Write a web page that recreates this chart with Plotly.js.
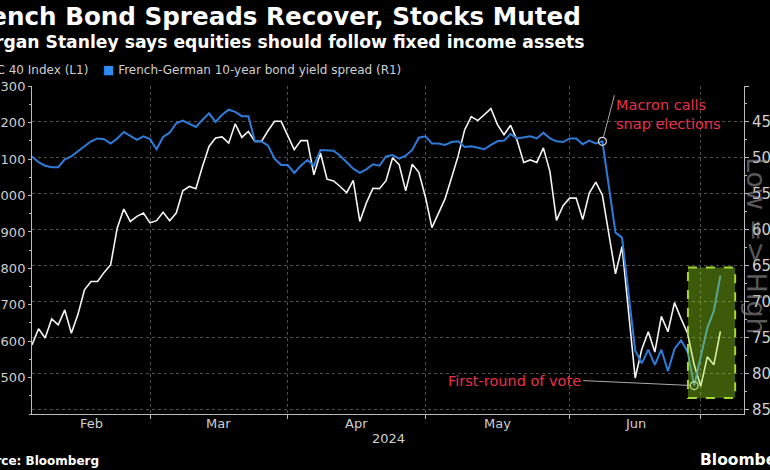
<!DOCTYPE html>
<html><head><meta charset="utf-8">
<script src="https://cdn.plot.ly/plotly-3.0.1.min.js"></script>
<style>html,body{margin:0;padding:0;background:#000;overflow:hidden}#chart{width:770px;height:470px}</style>
</head><body><div id="chart"></div>
<script>
// ---- data ----
const startDate = '2024-02-05';
const endDate = '2024-07-03';
const marketHolidays = ['2024-04-01', '2024-05-01'];

const cac40 = [
  7590, 7634, 7609, 7661, 7645, 7686, 7622, 7673, 7741, 7764,
  7764, 7789, 7810, 7911, 7963, 7929, 7943, 7952, 7925, 7931,
  7954, 7931, 7952, 8013, 8025, 8019, 8080, 8135, 8158, 8161,
  8144, 8197, 8160, 8176, 8149, 8149, 8178, 8204, 8204, 8167,
  8126, 8151, 8151, 8057, 8117, 8045, 8040, 8025, 8008, 8042,
  7929, 7980, 8020, 8019, 8041, 8104, 8085, 8013, 8086, 8064,
  7997, 7912, 7950, 7991, 8049, 8109, 8181, 8217, 8206, 8222,
  8239, 8195, 8167, 8193, 8151, 8091, 8098, 8091, 8131, 8066,
  7932, 7972, 7993, 7993, 7934, 8007, 8037, 8001, 7895, 7785,
  7860, 7678, 7499, 7577, 7626, 7570, 7668, 7626, 7706, 7662,
  7621, 7535, 7476, 7557, 7535, 7627
];

const oatBundSpread = [
  49.8, 50.6, 51.1, 51.3, 51.3, 50.2, 49.8, 49.1, 48.3, 47.7,
  47.3, 47.4, 48.0, 47.3, 46.4, 47.0, 47.5, 47.0, 47.4, 48.8,
  47.1, 46.5, 45.2, 44.8, 45.2, 45.7, 44.7, 43.8, 45.0, 44.0,
  43.3, 43.6, 44.2, 44.2, 47.7, 47.7, 48.3, 50.1, 51.0, 51.0,
  52.1, 51.1, 50.3, 51.1, 48.9, 48.9, 49.0, 49.7, 50.6, 51.5,
  52.1, 51.6, 50.9, 51.1, 49.8, 49.6, 50.1, 49.7, 48.9, 47.2,
  47.0, 48.0, 48.0, 48.2, 47.8, 47.7, 48.5, 48.4, 48.6, 48.8,
  48.2, 47.7, 47.6, 46.7, 47.3, 47.2, 47.0, 47.3, 46.5, 47.3,
  47.7, 47.8, 47.3, 47.3, 48.1, 47.6, 48.0, 47.7, 54.2, 60.4,
  61.1, 68.8, 76.8, 78.6, 76.7, 78.8, 76.7, 79.7, 76.6, 75.4,
  77.0, 81.7, 77.8, 73.7, 71.3, 66.4
];

const monthEnds = ['2024-02-29', '2024-03-29', '2024-04-30', '2024-05-31', '2024-06-28'];
const monthLabels = ['Feb', 'Mar', 'Apr', 'May', 'Jun'];
const leftTicks = [7500, 7600, 7700, 7800, 7900, 8000, 8100, 8200, 8300];
const rightTicks = [40, 45, 50, 55, 60, 65, 70, 75, 80, 85];
const eventDates = ['2024-06-07', '2024-06-27'];
const eventLabels = ['Macron calls<br>snap elections', 'First-round of vote'];

// ---- helpers ----
function tradingDays(start, end, holidays) {
  const out = [];
  const d = new Date(start + 'T00:00:00Z');
  const e = new Date(end + 'T00:00:00Z');
  while (d <= e) {
    const w = d.getUTCDay();
    const s = d.toISOString().slice(0, 10);
    if (w !== 0 && w !== 6 && !holidays.includes(s)) out.push(s);
    d.setUTCDate(d.getUTCDate() + 1);
  }
  return out;
}
const dates = tradingDays(startDate, endDate, marketHolidays);

const W = 770, H = 470;
const M = {l: 32, r: 26, t: 86, b: 56};
const PW = W - M.l - M.r, PH = H - M.t - M.b;
const px = v => (v - M.l) / PW;
const py = v => (H - M.b - v) / PH;
const XR = [0, 108.6];

const tickIdx = monthEnds.map(d => dates.indexOf(d));
const labelPos = tickIdx.map((t, i) => ((i === 0 ? 0 : tickIdx[i - 1]) + t) / 2);
const evIdx = eventDates.map(d => dates.indexOf(d));

const FONT = 'DejaVu Sans';
const GREY = '#cfcfcf';

const traces = [
  {x: dates, y: cac40, type: 'scatter', mode: 'lines', name: 'CAC 40 Index (L1)',
   line: {color: '#f4f4f4', width: 1.6}, xaxis: 'x', yaxis: 'y', hoverinfo: 'skip'},
  {x: dates, y: oatBundSpread, type: 'scatter', mode: 'lines', name: 'French-German 10-year bond yield spread (R1)',
   line: {color: '#2f7bd9', width: 2}, xaxis: 'x', yaxis: 'y2', hoverinfo: 'skip'},
  {x: evIdx.map(i => dates[i]), y: evIdx.map(i => oatBundSpread[i]), type: 'scatter', mode: 'markers',
   marker: {symbol: 'circle-open', size: 8, color: '#d8d8d8', line: {width: 1.2}},
   xaxis: 'x', yaxis: 'y2', hoverinfo: 'skip'}
];

const ann = [
  {text: '<b>French Bond Spreads Recover, Stocks Muted</b>', xref: 'paper', yref: 'paper',
   x: px(583), y: py(17), xanchor: 'right', yanchor: 'middle', showarrow: false,
   font: {family: FONT, size: 24.6, color: '#ffffff'}},
  {text: '<b>Morgan Stanley says equities should follow fixed income assets</b>', xref: 'paper', yref: 'paper',
   x: px(587), y: py(42), xanchor: 'right', yanchor: 'middle', showarrow: false,
   font: {family: FONT, size: 17.2, color: '#ffffff'}},
  {text: '<span style="color:#ffffff">■</span> CAC 40 Index (L1)', xref: 'paper', yref: 'paper',
   x: px(90), y: py(70), xanchor: 'right', yanchor: 'middle', showarrow: false,
   font: {family: FONT, size: 12, color: GREY}},
  {text: '<span style="color:#2f8cf2">■</span> French-German 10-year bond yield spread (R1)', xref: 'paper', yref: 'paper',
   x: px(101), y: py(70), xanchor: 'left', yanchor: 'middle', showarrow: false,
   font: {family: FONT, size: 12, color: GREY}},
  {text: '2024', xref: 'paper', yref: 'paper', x: 0.5, y: py(438), xanchor: 'center', yanchor: 'middle',
   showarrow: false, font: {family: FONT, size: 13, color: GREY}},
  {text: '<b>Source: Bloomberg</b>', xref: 'paper', yref: 'paper', x: px(101), y: py(461),
   xanchor: 'right', yanchor: 'middle', showarrow: false, font: {family: FONT, size: 12, color: '#ffffff'}},
  {text: '<b>Bloomberg</b>', xref: 'paper', yref: 'paper', x: px(698), y: py(460),
   xanchor: 'left', yanchor: 'middle', showarrow: false, font: {family: FONT, size: 15.5, color: '#ffffff'}},
  {text: 'Low => High', xref: 'paper', yref: 'paper', x: px(757), y: py(246), textangle: 90,
   xanchor: 'center', yanchor: 'middle', showarrow: false,
   font: {family: FONT, size: 27, color: 'rgba(150,150,150,0.6)'}},
  {text: eventLabels[0], x: dates[evIdx[0]], y: oatBundSpread[evIdx[0]], xref: 'x', yref: 'y2',
   showarrow: true, arrowhead: 0, arrowwidth: 1, arrowcolor: '#aaaaaa', standoff: 4,
   ax: 12, ay: -46, xanchor: 'left', yanchor: 'top', align: 'left',
   font: {family: FONT, size: 14.5, color: '#e8304c'}},
  {text: eventLabels[1], x: dates[evIdx[1]], y: oatBundSpread[evIdx[1]], xref: 'x', yref: 'y2',
   showarrow: true, arrowhead: 0, arrowwidth: 1, arrowcolor: '#aaaaaa', standoff: 4,
   ax: -111, ay: -5, xanchor: 'right', yanchor: 'middle', align: 'right',
   font: {family: FONT, size: 14.5, color: '#e8304c'}}
].concat(monthLabels.map((m, i) => ({
  text: m, xref: 'x', yref: 'paper', x: labelPos[i], y: py(423), xanchor: 'center', yanchor: 'middle',
  showarrow: false, font: {family: FONT, size: 13, color: GREY}
})));

const layout = {
  width: W, height: H, margin: M,
  paper_bgcolor: '#000', plot_bgcolor: '#000',
  showlegend: false,
  xaxis: {type: 'category', range: XR, tickmode: 'array', tickvals: monthEnds, ticktext: monthEnds.map(() => ''),
    ticks: 'outside', ticklen: 4, tickcolor: '#bbb', showgrid: true, gridcolor: '#505050', griddash: 'dot',
    showline: true, linecolor: '#bbb', linewidth: 1, zeroline: false, fixedrange: true},
  yaxis: {range: [7400, 8301], tickmode: 'array', tickvals: leftTicks, ticks: 'outside', ticklen: 3,
    tickcolor: '#bbb', showline: true, linecolor: '#bbb', showgrid: false, zeroline: false,
    tickfont: {family: FONT, size: 13, color: GREY}, tickformat: 'd',
    minor: {tickmode: 'linear', tick0: 7400, dtick: 50, ticks: 'outside', ticklen: 2, tickcolor: '#bbb', showgrid: false}},
  yaxis2: {overlaying: 'y', side: 'right', range: [85.65, 40], tickmode: 'array', tickvals: rightTicks,
    ticktext: rightTicks.map(v => v === 40 ? '' : String(v)), ticks: 'outside', ticklen: 4, tickcolor: '#bbb',
    showline: true, linecolor: '#bbb', showgrid: true, gridcolor: '#505050', griddash: 'dot', zeroline: false,
    tickfont: {family: FONT, size: 15, color: GREY},
    minor: {tickmode: 'linear', tick0: 40, dtick: 2.5, ticks: 'outside', ticklen: 2, tickcolor: '#bbb', showgrid: false}},
  shapes: [
    {type: 'rect', xref: 'x', yref: 'y2', x0: 100.05, x1: 107.25, y0: 65.27, y1: 83.44, layer: 'above',
     fillcolor: 'rgba(160,237,29,0.38)', line: {color: '#a6d835', width: 2, dash: 'dash'}}
  ],
  annotations: ann
};

Plotly.newPlot('chart', traces, layout, {staticPlot: true, displayModeBar: false});
</script>
</body></html>
